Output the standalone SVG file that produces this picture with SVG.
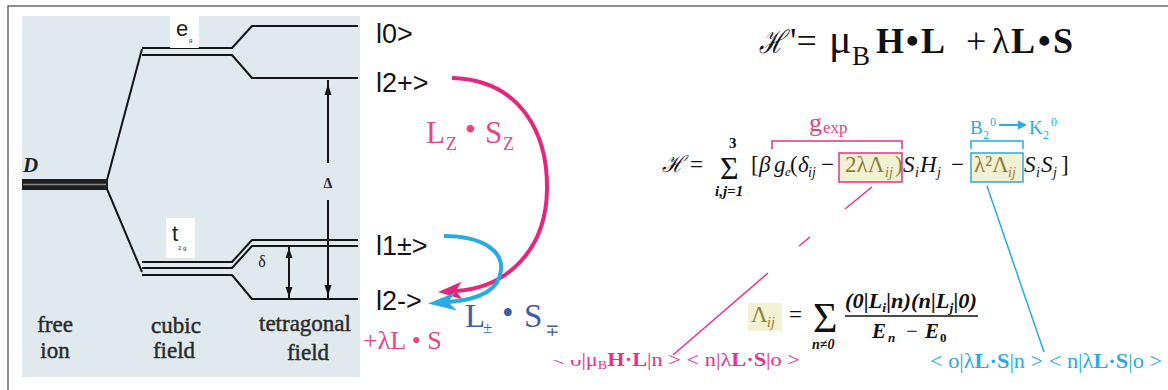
<svg xmlns="http://www.w3.org/2000/svg" width="1168" height="390" viewBox="0 0 1168 390">
<defs>
<style>
.lv{fill:none;stroke:#151515;stroke-width:2;stroke-linejoin:round}
.ser{font-family:"Liberation Serif","DejaVu Serif",serif}
.ket{font-family:"Liberation Sans",Arial,sans-serif;font-size:27px;fill:#151515}
.lab{font-family:"Liberation Serif","DejaVu Serif",serif;font-size:23px;fill:#2a2a2a;stroke:#2a2a2a;stroke-width:0.45;text-anchor:middle}
.pk{fill:#e8457f}
.bl{fill:#29abe2}
.ol{fill:#8c7d3c}
.it{font-style:italic}
.b{font-weight:bold}
.blk{fill:#111}
</style>
<marker id="mp" markerUnits="userSpaceOnUse" orient="auto" viewBox="-10 -10 30 20" markerWidth="30" markerHeight="20" refX="0" refY="0"><path d="M18,0 L-6,-9 L0,0 L-6,9 Z" fill="#e5267f"/></marker>
<marker id="mb" markerUnits="userSpaceOnUse" orient="auto" viewBox="-10 -10 32 20" markerWidth="32" markerHeight="20" refX="0" refY="0"><path d="M20,0 L-8,-9 L0,0 L-8,9 Z" fill="#29abe2"/></marker>
<marker id="ma" markerUnits="userSpaceOnUse" orient="auto" viewBox="-2 -6 12 12" markerWidth="12" markerHeight="12" refX="0" refY="0"><path d="M8,0 L-1,-4.5 L-1,4.5 Z" fill="#29abe2"/></marker>
<clipPath id="cpk"><path d="M583,340 H830 V380 H540 V360 H583 Z"/></clipPath>
</defs>

<path d="M8,392 V6 H1170" fill="none" stroke="#6a6a6a" stroke-width="1.5"/>

<g id="energy-diagram">
<rect x="22" y="16" width="338" height="361" fill="#dfe9ee"/>
<rect x="22" y="179" width="86" height="11" fill="#1e1e1e"/>
<line x1="23" y1="184.5" x2="106" y2="184.5" stroke="#8a8a8a" stroke-width="1.5"/>
<path class="lv" d="M107,180 L142,49 M142,48 H232 L252,26 H358 M142,55 H232 L252,78 H358 M107,189 L142,272 M142,262 H232 L252,240 H358 M142,268 H232 L252,246 H358 M142,275 H232 L252,299 H358"/>
<path class="lv" d="M328,80 V163 M328,200 V298 M289,246 V299"/>
<path fill="#151515" d="M328,84 L324.5,95 L331.5,95 Z M328,296 L324.5,285 L331.5,285 Z M289,248 L285.5,258 L292.5,258 Z M289,297 L285.5,287 L292.5,287 Z"/>
<text class="ser b it" x="23" y="172" font-size="21" fill="#222">D</text>
<text class="ser b" x="328" y="188" font-size="14" fill="#222" text-anchor="middle">Δ</text>
<text class="ser" x="262" y="267" font-size="16" fill="#222" text-anchor="middle">δ</text>
<rect x="170" y="16" width="29" height="32" fill="#fff"/>
<text font-family="Liberation Sans, Arial, sans-serif" x="176" y="36" font-size="22" fill="#222">e</text>
<text font-family="Liberation Sans, Arial, sans-serif" x="189" y="42" font-size="6" fill="#222">g</text>
<rect x="166" y="218" width="29" height="40" fill="#fff"/>
<text font-family="Liberation Sans, Arial, sans-serif" x="172" y="241" font-size="22" fill="#222">t</text>
<text font-family="Liberation Sans, Arial, sans-serif" x="178" y="250" font-size="6" fill="#222">2 g</text>
<text class="lab" x="55" y="332">free</text>
<text class="lab" x="55" y="358">ion</text>
<text class="lab" x="176" y="333">cubic</text>
<text class="lab" x="174" y="358">field</text>
<text class="lab" x="305" y="331">tetragonal</text>
<text class="lab" x="308" y="360">field</text>
</g>

<g id="ket-0"><text class="ket" x="376" y="43">l0&gt;</text></g>
<g id="ket-2plus"><text class="ket" x="376" y="92">l2+&gt;</text></g>
<g id="ket-1pm"><text class="ket" x="376" y="255">l1±&gt;</text></g>
<g id="ket-2minus"><text class="ket" x="376" y="310">l2-&gt;</text></g>
<g id="so-label"><text class="ser pk" x="363" y="349" font-size="26">+λL • S</text></g>

<g id="connectors">
<path d="M452,78 C522,80 548,135 547,190 C546,252 505,288 456,291" fill="none" stroke="#e5267f" stroke-width="4" marker-end="url(#mp)"/>
<path d="M444,236 C484,236 503,252 501,270 C499,292 476,300 448,302" fill="none" stroke="#29abe2" stroke-width="4" marker-end="url(#mb)"/>
<path d="M872,187 L845,209 M810,237 L799,246 M768,273 L673,355" fill="none" stroke="#e5328a" stroke-width="1.5"/>
<path d="M987,186 L1044,352" fill="none" stroke="#29abe2" stroke-width="1.5"/>
</g>

<g id="lzsz-label">
<text class="ser pk" font-size="31"><tspan x="426" y="143">L</tspan><tspan x="446" y="150" font-size="18">Z</tspan><tspan x="465" y="140">•</tspan><tspan x="485" y="143">S</tspan><tspan x="503" y="150" font-size="18">Z</tspan></text>
</g>
<g id="lpm-label">
<text class="ser" font-size="33" fill="#3d5dab"><tspan x="465" y="327">L</tspan><tspan x="483" y="333" font-size="17">±</tspan><tspan x="502" y="324">•</tspan><tspan x="524" y="327">S</tspan><tspan x="545" y="336" font-size="17">∓</tspan></text>
</g>

<g id="hamiltonian-top">
<text class="ser blk it" font-size="32" x="759" y="53" textLength="26" lengthAdjust="spacingAndGlyphs">ℋ</text>
<text class="ser blk" font-size="36"><tspan x="790" y="53">'=</tspan><tspan x="829" y="53" font-size="42">μ</tspan><tspan x="852" y="65" font-size="27">B</tspan><tspan x="876" y="53" class="b">H</tspan><tspan x="906" y="53" class="b">•</tspan><tspan x="921" y="53" class="b">L</tspan><tspan x="966" y="53">+</tspan><tspan x="992" y="53">λ</tspan><tspan x="1011" y="53" class="b">L</tspan><tspan x="1038" y="53" class="b">•</tspan><tspan x="1053" y="53" class="b">S</tspan></text>
</g>

<g id="hamiltonian-spin">
<text class="ser blk it" font-size="23" x="662" y="172" textLength="22" lengthAdjust="spacingAndGlyphs">ℋ</text>
<text class="ser blk" font-size="23"><tspan x="690" y="172">=</tspan><tspan x="720" y="179" font-size="32">Σ</tspan><tspan x="729" y="148" font-size="15" class="b">3</tspan><tspan x="715" y="196" font-size="15" class="b it">i,j=1</tspan><tspan x="751" y="172">[</tspan><tspan x="759" y="172" class="it">β</tspan><tspan x="774" y="172" class="it">g</tspan><tspan x="785" y="176" font-size="13" class="it">e</tspan><tspan x="790" y="172">(</tspan><tspan x="798" y="172" class="it">δ</tspan><tspan x="808" y="177" font-size="14" class="it">ij</tspan><tspan x="821" y="172">−</tspan><tspan x="903" y="172" class="it">S</tspan><tspan x="915" y="177" font-size="14" class="it">i</tspan><tspan x="920" y="172" class="it">H</tspan><tspan x="937" y="177" font-size="14" class="it">j</tspan><tspan x="951" y="172">−</tspan><tspan x="1024" y="172" class="it">S</tspan><tspan x="1036" y="177" font-size="14" class="it">i</tspan><tspan x="1041" y="172" class="it">S</tspan><tspan x="1053" y="177" font-size="14" class="it">j</tspan><tspan x="1061" y="172">]</tspan></text>
<rect x="839" y="153" width="63" height="29" fill="#f4f0d2" stroke="#e5328a" stroke-width="1.5"/>
<text class="ser ol" font-size="23"><tspan x="845" y="172">2λΛ</tspan><tspan x="885" y="177" font-size="14" class="it">ij</tspan><tspan x="895" y="172">)</tspan></text>
<rect x="971" y="153" width="52" height="29" fill="#f4f0d2" stroke="#29abe2" stroke-width="1.5"/>
<text class="ser ol" font-size="23"><tspan x="974" y="172">λ²Λ</tspan><tspan x="1008" y="177" font-size="14" class="it">ij</tspan></text>
</g>

<g id="gexp-bracket">
<path d="M772,149 V141 H902 V149" fill="none" stroke="#e5328a" stroke-width="1.5"/>
<text class="ser pk"><tspan x="809" y="131" font-size="26">g</tspan><tspan x="823" y="133" font-size="17">exp</tspan></text>
</g>

<g id="b20-bracket">
<path d="M971,149 V141 H1023 V149" fill="none" stroke="#29abe2" stroke-width="1.5"/>
<text class="ser bl"><tspan x="970" y="134" font-size="19">B</tspan><tspan x="983" y="139" font-size="12">2</tspan><tspan x="990" y="126" font-size="12">0</tspan><tspan x="1029" y="134" font-size="19">K</tspan><tspan x="1043" y="139" font-size="12">2</tspan><tspan x="1051" y="126" font-size="12">0</tspan></text>
<line x1="999" y1="125" x2="1019" y2="125" stroke="#29abe2" stroke-width="2" marker-end="url(#ma)"/>
</g>

<g id="lambda-def">
<rect x="748" y="303" width="34" height="28" fill="#f4f0d2"/>
<text class="ser ol" font-size="23"><tspan x="751" y="322">Λ</tspan><tspan x="767" y="327" font-size="14" class="it">ij</tspan></text>
<text class="ser blk" font-size="23"><tspan x="789" y="322">=</tspan><tspan x="813" y="332" font-size="42">Σ</tspan><tspan x="812" y="349" font-size="14" class="b it">n≠0</tspan></text>
<text class="ser blk it b" font-size="21" x="845" y="308" textLength="132" lengthAdjust="spacingAndGlyphs">(0|L<tspan font-size="13" dy="4">i</tspan><tspan dy="-4">|n)(n|L</tspan><tspan font-size="13" dy="4">j</tspan><tspan dy="-4">|0)</tspan></text>
<line x1="845" y1="316" x2="978" y2="316" stroke="#111" stroke-width="1.5"/>
<text class="ser blk it b" font-size="21"><tspan x="872" y="338">E</tspan><tspan x="888" y="342" font-size="13">n</tspan><tspan x="906" y="338" font-weight="normal" font-style="normal">−</tspan><tspan x="925" y="338">E</tspan><tspan x="940" y="342" font-size="13" font-style="normal">0</tspan></text>
</g>

<g id="matrix-pink">
<text class="ser" font-size="19" fill="#e5328a" x="552" y="366" clip-path="url(#cpk)" textLength="248" lengthAdjust="spacingAndGlyphs">&lt; o|μ<tspan font-size="12" dy="3">B</tspan><tspan class="b" dy="-3">H·L</tspan>|n &gt; &lt; n|λ<tspan class="b">L·S</tspan>|o &gt;</text>
</g>
<g id="matrix-blue">
<text class="ser bl" font-size="20" x="930" y="368" textLength="232" lengthAdjust="spacingAndGlyphs">&lt; o|λ<tspan class="b">L·S</tspan>|n &gt; &lt; n|λ<tspan class="b">L·S</tspan>|o &gt;</text>
</g>
</svg>
